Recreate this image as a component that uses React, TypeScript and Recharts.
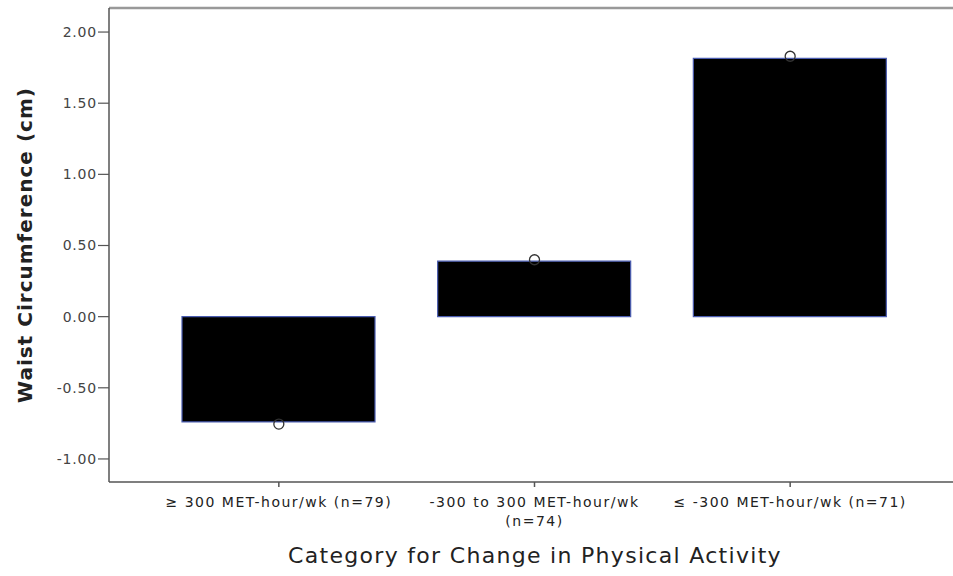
import React from "react";
import { ComposedChart, Bar, Scatter, XAxis, YAxis, ReferenceLine } from "recharts";

const categories = [
  "≥ 300 MET-hour/wk (n=79)",
  "-300 to 300 MET-hour/wk\n(n=74)",
  "≤ -300 MET-hour/wk (n=71)",
];
const barValues = [-0.74, 0.39, 1.815];
const pointValues = [-0.755, 0.40, 1.83];
const yTicks = [-1, -0.5, 0, 0.5, 1, 1.5, 2];
const yMin = -1.162;
const yMax = 2.169;

const data = categories.map((c, i) => ({ cat: c, bar: barValues[i], point: pointValues[i] }));

const XTick = (props: any) => {
  const { x, y, payload } = props;
  const lines = String(payload.value).split("\n");
  return (
    <text x={x} y={y} textAnchor="middle" fill="#222" fontFamily="DejaVu Sans" fontSize={14} letterSpacing={1.5}>
      {lines.map((l, i) => (
        <tspan key={i} x={x} dy={i === 0 ? 20 : 19}>{l}</tspan>
      ))}
    </text>
  );
};

const Circle = (props: any) => {
  const { cx, cy } = props;
  return <circle cx={cx} cy={cy} r={5} fill="none" stroke="#333" strokeWidth={1.3} />;
};

export default function App() {
  return (
    <div style={{ position: "absolute", left: 0, top: 0, background: "#fff" }}>
      <ComposedChart width={960} height={576} data={data} margin={{ top: 8, right: 0, bottom: 0, left: 0 }}>
        <XAxis
          dataKey="cat"
          height={94}
          interval={0}
          tickSize={5}
          tickMargin={0}
          tick={<XTick />}
          axisLine={{ stroke: "#555", strokeWidth: 1.5 }}
          tickLine={{ stroke: "#555", strokeWidth: 1.5 }}
          padding={{ left: 42, right: 42 }}
          label={{
            content: () => (
              <text x={535} y={563} textAnchor="middle" fill="#222" fontFamily="DejaVu Sans" fontSize={22} letterSpacing={1.3}>
                Category for Change in Physical Activity
              </text>
            ),
          }}
        />
        <YAxis
          width={109}
          domain={[yMin, yMax]}
          allowDataOverflow
          ticks={yTicks}
          interval={0}
          tickFormatter={(v: number) => v.toFixed(2)}
          tickSize={11}
          tickMargin={1}
          tick={{ fill: "#444", fontFamily: "DejaVu Sans", fontSize: 14, letterSpacing: 0.8 }}
          axisLine={{ stroke: "#555", strokeWidth: 1.5 }}
          tickLine={{ stroke: "#555", strokeWidth: 1.2 }}
          label={{
            content: () => (
              <text x={25} y={245} transform="rotate(-90 25 245)" textAnchor="middle" dominantBaseline="central" fill="#222" fontFamily="DejaVu Sans" fontWeight="bold" fontSize={20} letterSpacing={1}>
                Waist Circumference (cm)
              </text>
            ),
          }}
        />
        <ReferenceLine y={yMax} stroke="#999" strokeWidth={2.5} />
        <Bar dataKey="bar" barSize={193} fill="#000" stroke="#4a5cb0" strokeWidth={1.2} isAnimationActive={false} />
        <Scatter dataKey="point" shape={<Circle />} isAnimationActive={false} />
      </ComposedChart>
    </div>
  );
}
